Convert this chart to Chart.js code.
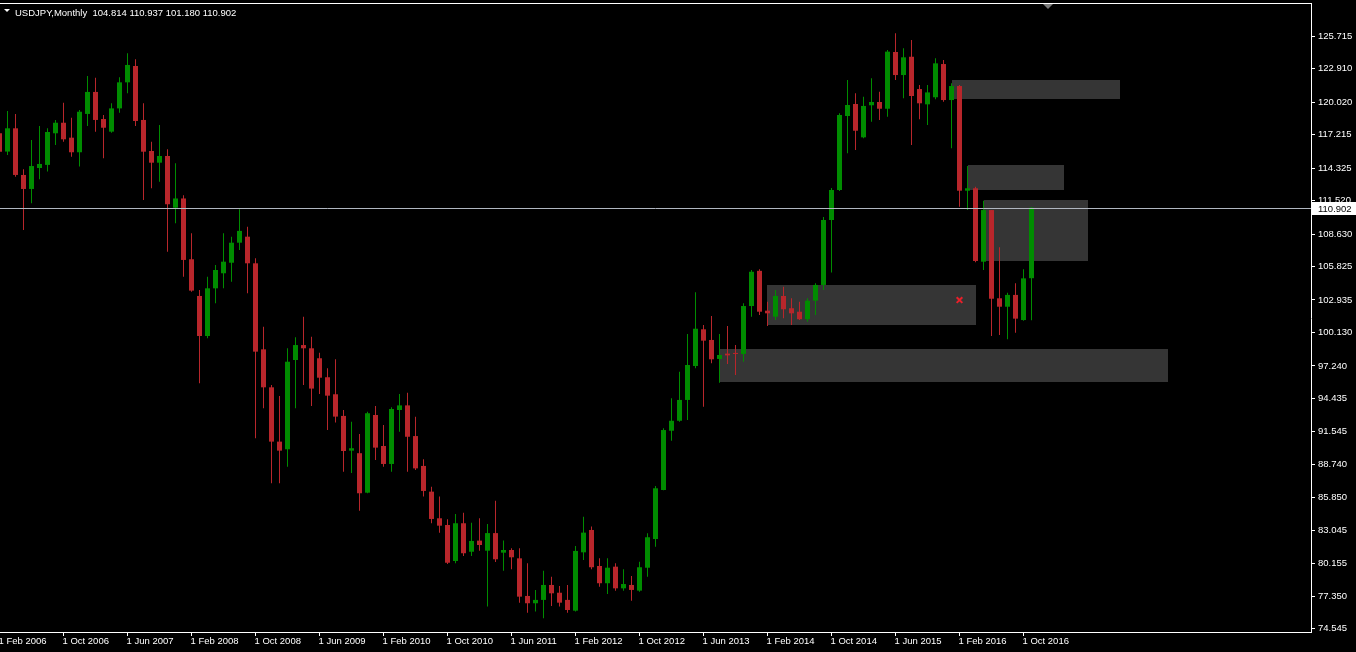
<!DOCTYPE html>
<html>
<head>
<meta charset="utf-8">
<title>USDJPY Monthly</title>
<script src="https://cdn.jsdelivr.net/npm/chart.js@4.4.1/dist/chart.umd.min.js"></script>
<style>
  html, body { margin: 0; padding: 0; background: #000; }
  canvas { display: block; }
</style>
</head>
<body>
<canvas id="chart" width="1356" height="652"></canvas>
<script>
// monthly candles, index 0 = Feb 2006 ... index 129 = Nov 2016
const opens = [
  117.33, 115.75, 117.76, 113.73, 112.52, 114.33, 114.60, 117.33, 118.24, 116.95, 115.69,
  119.00, 120.90, 118.56, 117.47, 119.48, 121.73, 123.14, 118.48, 115.80, 114.79, 115.37, 110.90,
  111.70, 106.45, 103.28, 99.82, 103.94, 105.24, 106.15, 107.88, 108.40, 106.10, 98.67, 95.39,
  90.70, 90.04, 97.75, 99.04, 98.76, 97.90, 96.26, 94.79, 92.92, 89.92, 89.70, 86.29,
  93.00, 90.32, 88.77, 93.43, 93.83, 91.18, 88.60, 86.38, 84.08, 83.50, 80.39, 83.65,
  81.19, 82.15, 81.28, 82.80, 81.11, 81.34, 80.62, 77.37, 76.74, 77.03, 78.32, 77.65,
  77.03, 76.10, 81.14, 83.07, 79.96, 78.47, 79.90, 78.03, 78.32, 77.83, 79.81, 82.29,
  86.52, 91.64, 92.50, 94.30, 97.23, 100.40, 99.48, 97.84, 98.30, 98.36, 98.27, 102.41,
  105.45, 102.01, 101.49, 103.28, 102.22, 101.92, 101.27, 102.87, 104.23, 109.84, 112.43, 118.82,
  119.86, 116.98, 119.75, 120.03, 119.45, 124.35, 122.36, 123.94, 121.15, 119.83, 120.44, 123.31,
  120.20, 121.41, 112.37, 112.58, 106.24, 110.70, 103.08, 102.35, 103.37, 101.20, 104.814
];
const highs = [
  118.90, 119.25, 118.99, 114.22, 116.75, 117.96, 117.76, 118.48, 119.97, 118.68, 119.34,
  122.28, 122.13, 118.91, 119.92, 122.16, 124.24, 123.72, 119.92, 116.60, 118.05, 115.95, 114.74,
  111.98, 108.69, 103.80, 104.94, 105.96, 108.69, 108.40, 110.77, 109.26, 106.53, 100.63, 95.60,
  94.64, 98.76, 99.71, 101.49, 99.76, 98.38, 97.03, 97.81, 93.43, 92.42, 91.36, 93.29,
  93.78, 92.14, 93.67, 94.81, 94.92, 92.85, 89.17, 86.81, 85.95, 83.99, 84.45, 84.56,
  83.70, 84.08, 83.59, 85.60, 82.15, 81.49, 81.49, 80.19, 77.89, 79.55, 79.04, 78.23,
  78.32, 81.69, 84.22, 83.36, 80.62, 80.62, 80.19, 79.67, 79.10, 80.33, 82.79, 86.87,
  91.85, 94.44, 96.74, 99.99, 103.60, 100.77, 101.55, 99.99, 100.69, 99.05, 102.65, 105.52,
  105.58, 102.79, 103.80, 104.08, 103.08, 102.79, 103.08, 104.37, 110.09, 112.60, 119.05, 121.93,
  120.78, 120.49, 122.08, 120.92, 124.52, 125.96, 124.67, 125.39, 121.50, 121.50, 123.80, 123.66,
  121.65, 121.50, 114.50, 112.72, 111.51, 110.70, 107.48, 103.56, 104.37, 105.58, 110.937
];
const lows = [
  115.40, 115.45, 113.58, 108.98, 111.28, 113.36, 114.02, 116.32, 116.60, 115.31, 114.45,
  117.96, 117.47, 115.17, 117.38, 119.10, 120.78, 117.96, 111.57, 112.58, 113.15, 107.10, 109.56,
  104.94, 103.65, 95.74, 99.62, 102.65, 103.94, 104.51, 107.25, 103.51, 90.99, 93.58, 87.10,
  87.10, 88.53, 93.58, 95.59, 93.78, 94.81, 91.71, 92.36, 88.10, 88.00, 84.74, 86.24,
  89.11, 88.54, 88.10, 91.56, 88.10, 88.25, 85.95, 83.65, 82.84, 80.13, 80.19, 80.82,
  80.82, 81.28, 76.45, 80.30, 79.55, 79.67, 76.79, 75.93, 76.02, 75.44, 76.51, 76.45,
  75.93, 76.02, 80.48, 79.67, 78.17, 77.54, 77.83, 77.83, 76.96, 77.74, 79.04, 81.63,
  86.50, 90.78, 92.42, 92.57, 97.03, 93.72, 97.46, 95.79, 97.41, 96.45, 97.60, 101.49,
  101.64, 100.69, 101.20, 101.35, 100.77, 101.20, 101.06, 101.64, 103.80, 105.30, 112.35, 115.60,
  115.89, 116.90, 118.33, 118.48, 118.76, 121.93, 120.35, 116.32, 118.54, 118.05, 120.26, 120.06,
  116.03, 110.99, 110.70, 106.20, 105.52, 99.82, 99.91, 99.54, 100.11, 101.14, 101.180
];
const closes = [
  115.74, 117.76, 113.73, 112.52, 114.50, 114.68, 117.44, 118.24, 116.81, 115.69, 119.19,
  120.90, 118.48, 117.81, 119.48, 121.73, 123.23, 118.39, 115.74, 114.79, 115.37, 111.20, 111.70,
  106.39, 103.74, 99.82, 103.94, 105.52, 106.24, 107.88, 108.90, 106.10, 98.47, 95.39, 90.70,
  89.92, 97.60, 99.04, 98.76, 95.28, 96.22, 94.67, 92.86, 89.89, 90.13, 86.24, 93.15,
  90.18, 88.77, 93.52, 93.83, 91.12, 88.39, 86.44, 84.02, 83.44, 80.24, 83.65, 81.06,
  82.12, 81.77, 82.80, 80.54, 81.34, 80.71, 77.31, 76.74, 77.03, 78.32, 77.60, 76.79,
  76.16, 81.26, 82.84, 79.85, 78.47, 79.81, 78.03, 78.40, 77.89, 79.85, 82.44, 86.67,
  91.70, 92.50, 94.30, 97.32, 100.45, 99.42, 97.81, 98.18, 98.15, 98.27, 102.41, 105.37,
  101.92, 101.78, 103.28, 102.13, 101.78, 101.27, 102.87, 104.23, 109.84, 112.43, 118.91, 119.77,
  117.55, 119.69, 120.03, 119.45, 124.38, 122.36, 123.89, 120.55, 119.92, 120.86, 123.37, 120.20,
  121.41, 112.37, 112.58, 106.30, 110.70, 103.04, 102.35, 103.37, 101.32, 104.80, 110.902
];

const xTickIdx = [0, 8, 16, 24, 32, 40, 48, 56, 64, 72, 80, 88, 96, 104, 112, 120, 128];
const xTickLabels = [
  '1 Feb 2006', '1 Oct 2006', '1 Jun 2007', '1 Feb 2008', '1 Oct 2008', '1 Jun 2009',
  '1 Feb 2010', '1 Oct 2010', '1 Jun 2011', '1 Feb 2012', '1 Oct 2012', '1 Jun 2013',
  '1 Feb 2014', '1 Oct 2014', '1 Jun 2015', '1 Feb 2016', '1 Oct 2016'
];
const yTickVals = [
  125.715, 122.910, 120.020, 117.215, 114.325, 111.520, 108.630, 105.825, 102.935, 100.130,
  97.240, 94.435, 91.545, 88.740, 85.850, 83.045, 80.155, 77.350, 74.545
];

// rectangles drawn on the chart (start/end bar index, price range)
const zoneStart = [119, 121, 123, 96, 90];
const zoneEnd = [140, 133, 136, 122, 146];
const zoneHigh = [121.93, 114.59, 111.57, 104.23, 98.70];
const zoneLow = [120.29, 112.43, 106.30, 100.77, 95.88];

const markX = [120];
const markY = [102.93];

const symbolName = 'USDJPY,Monthly';
const lastBar = [104.814, 110.937, 101.180, 110.902];
const shiftIdx = 131;

const UP = '#008c00';
const DOWN = '#b8262b';
const FONT = 'Liberation Sans, Arial, sans-serif';

const candleColor = ctx => closes[ctx.dataIndex] >= opens[ctx.dataIndex] ? UP : DOWN;

const mt4Frame = {
  id: 'mt4Frame',
  beforeDatasetsDraw(chart) {
    const { ctx, chartArea: a, scales: { x, y } } = chart;
    ctx.save();
    ctx.beginPath();
    ctx.rect(a.left, a.top, a.right - a.left, a.bottom - a.top);
    ctx.clip();
    ctx.fillStyle = '#353535';
    for (let i = 0; i < zoneStart.length; i++) {
      const x0 = Math.round(x.getPixelForValue(zoneStart[i]));
      const x1 = Math.round(x.getPixelForValue(zoneEnd[i]));
      const y0 = Math.round(y.getPixelForValue(zoneHigh[i]));
      const y1 = Math.round(y.getPixelForValue(zoneLow[i]));
      ctx.fillRect(x0, y0, x1 - x0, y1 - y0);
    }
    ctx.restore();
  },
  afterDatasetsDraw(chart) {
    const { ctx, chartArea: a, scales: { y } } = chart;
    const py = Math.round(y.getPixelForValue(lastBar[3])) + 0.5;
    ctx.save();
    ctx.strokeStyle = '#b0b6c0';
    ctx.lineWidth = 1;
    ctx.beginPath();
    ctx.moveTo(a.left, py);
    ctx.lineTo(a.right, py);
    ctx.stroke();
    ctx.restore();
  },
  afterDraw(chart) {
    const { ctx, chartArea: a, scales: { x, y } } = chart;
    ctx.save();
    // top border
    ctx.strokeStyle = '#ffffff';
    ctx.lineWidth = 1;
    ctx.beginPath();
    ctx.moveTo(a.left, a.top - 0.5);
    ctx.lineTo(a.right + 1, a.top - 0.5);
    ctx.stroke();
    // chart shift marker
    const sx = Math.round(x.getPixelForValue(shiftIdx));
    ctx.fillStyle = '#7a7a7a';
    ctx.beginPath();
    ctx.moveTo(sx - 5, a.top);
    ctx.lineTo(sx + 5, a.top);
    ctx.lineTo(sx, a.top + 5);
    ctx.closePath();
    ctx.fill();
    // header
    ctx.fillStyle = '#ffffff';
    ctx.beginPath();
    ctx.moveTo(4, 9);
    ctx.lineTo(10, 9);
    ctx.lineTo(7, 12);
    ctx.closePath();
    ctx.fill();
    ctx.font = '9.5px ' + FONT;
    ctx.textBaseline = 'alphabetic';
    ctx.textAlign = 'left';
    ctx.fillText(symbolName + '  ' + lastBar.map(v => v.toFixed(3)).join(' '), 15, 16);
    // last price label
    const py = Math.round(y.getPixelForValue(lastBar[3]));
    ctx.fillStyle = '#ffffff';
    ctx.fillRect(a.right + 1, py - 6, chart.width - a.right - 1, 13);
    ctx.fillStyle = '#000000';
    ctx.textBaseline = 'middle';
    ctx.fillText(lastBar[3].toFixed(3), a.right + 7, py + 1);
    ctx.restore();
  }
};

new Chart(document.getElementById('chart'), {
  type: 'bar',
  data: {
    datasets: [
      {
        type: 'scatter',
        data: markX.map((v, i) => ({ x: v, y: markY[i] })),
        pointStyle: 'crossRot',
        radius: 4,
        borderColor: '#e8202a',
        borderWidth: 2,
        backgroundColor: '#e8202a'
      },
      {
        data: opens.map((o, i) => ({ x: i, y: [o, closes[i]] })),
        backgroundColor: candleColor,
        barThickness: 5,
        minBarLength: 1,
        grouped: false,
        borderWidth: 0,
        inflateAmount: 0
      },
      {
        data: lows.map((l, i) => ({ x: i, y: [l, highs[i]] })),
        backgroundColor: candleColor,
        barThickness: 1,
        grouped: false,
        borderWidth: 0,
        inflateAmount: 0
      }
    ]
  },
  options: {
    responsive: false,
    animation: false,
    events: [],
    layout: { autoPadding: false, padding: { top: 4, left: 0, right: 0, bottom: 0 } },
    plugins: {
      legend: { display: false },
      tooltip: { enabled: false }
    },
    scales: {
      x: {
        type: 'linear',
        position: 'bottom',
        offset: false,
        min: 0.0625,
        max: 163.9375,
        bounds: 'data',
        afterBuildTicks: s => { s.ticks = xTickIdx.map(v => ({ value: v })); },
        afterFit: s => { s.height = 20; s.paddingLeft = 0; s.paddingRight = 0; },
        grid: { offset: false, drawOnChartArea: false, drawTicks: true, tickLength: 4, color: '#ffffff' },
        border: { display: true, color: '#ffffff', width: 1 },
        ticks: {
          autoSkip: false,
          maxRotation: 0,
          align: 'start',
          labelOffset: -1,
          padding: 0,
          color: '#ffffff',
          font: { family: FONT, size: 9.5 },
          callback: v => xTickLabels[xTickIdx.indexOf(v)]
        }
      },
      y: {
        type: 'linear',
        position: 'right',
        min: 74.258,
        max: 128.495,
        bounds: 'data',
        afterBuildTicks: s => { s.ticks = yTickVals.map(v => ({ value: v })); },
        afterFit: s => { s.width = 45; s.paddingTop = 0; s.paddingBottom = 0; },
        grid: { drawOnChartArea: false, drawTicks: true, tickLength: 4, color: '#ffffff' },
        border: { display: true, color: '#ffffff', width: 1 },
        ticks: {
          autoSkip: false,
          padding: 3,
          color: '#ffffff',
          font: { family: FONT, size: 9.5 },
          callback: v => v.toFixed(3)
        }
      }
    }
  },
  plugins: [mt4Frame]
});
</script>
</body>
</html>
